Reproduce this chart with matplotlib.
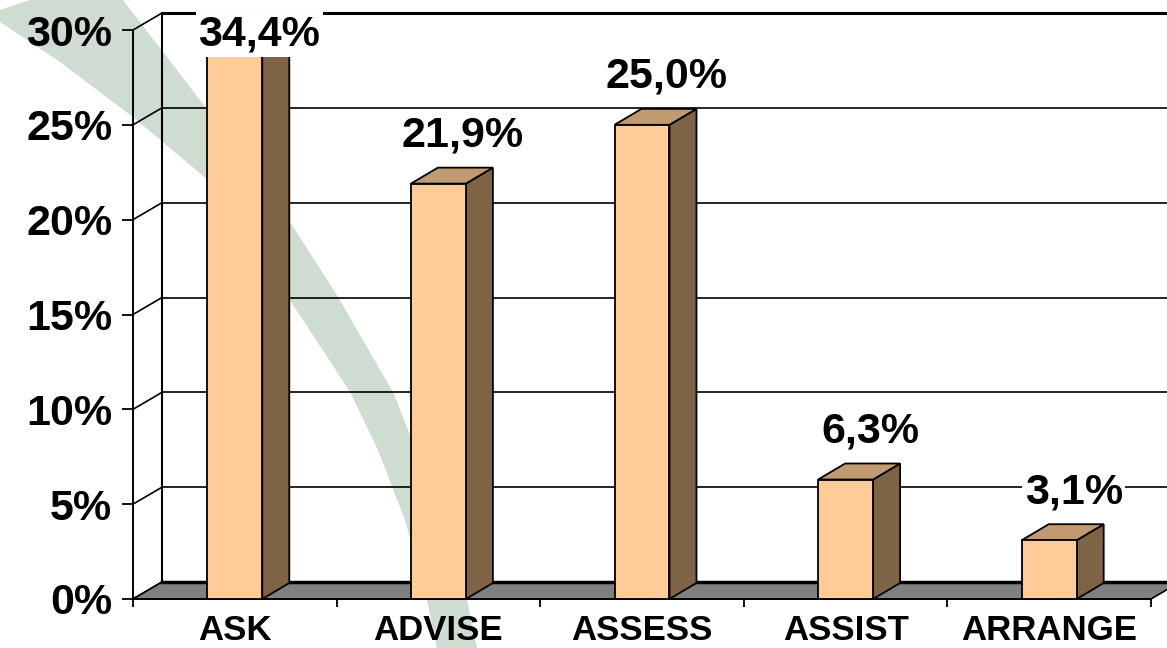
import matplotlib
matplotlib.use('Agg')
import matplotlib.pyplot as plt
from matplotlib.patches import Polygon, Rectangle
from matplotlib.transforms import Affine2D

plt.rcParams['font.family'] = ['Liberation Sans', 'DejaVu Sans']

# data
categories = ['ASK', 'ADVISE', 'ASSESS', 'ASSIST', 'ARRANGE']
values = [34.4, 21.9, 25.0, 6.3, 3.1]
value_labels = ['34,4%', '21,9%', '25,0%', '6,3%', '3,1%']
yticks = [0, 5, 10, 15, 20, 25, 30]
ytick_labels = ['0%', '5%', '10%', '15%', '20%', '25%', '30%']

W, H = 1167, 648
fig = plt.figure(figsize=(W / 100, H / 100), dpi=100)
fig.patch.set_facecolor('white')
ax = fig.add_axes([133 / W, 49 / H, 1018 / W, 569 / H])
ax.set_xlim(-0.5, len(categories) - 0.5)
ax.set_ylim(0, 30)
ax.patch.set_visible(False)

YMAX = 30
DX, DY = 29 / 203.6, 17 / 18.97     # wall depth (data units)
BDX, BDY = 27 / 203.6, 16 / 18.97   # bar depth
BW = 0.27

# background swoosh (decoration, pixel coords of the picture)
px = Affine2D().scale(1 / W, -1 / H).translate(0, 1) + fig.transFigure
right_edge = [(30, 0), (123, 0), (200, 100), (292, 225), (338, 297), (393, 392),
              (440, 510), (467, 600), (477, 648)]
left_edge = [(0, 10), (0, 22), (60, 62), (133, 117), (208, 180), (250, 240),
             (290, 300), (350, 392), (378, 450), (405, 520), (427, 600), (437, 648)]
swoosh = Polygon(right_edge + left_edge[::-1], closed=True, transform=px,
                 fc='#cfdcd2', ec='none', zorder=0, clip_on=False)
ax.add_patch(swoosh)

x0, x1 = -0.5, len(categories) - 0.5

# back wall + side wall lines
for v in yticks[1:]:
    ax.plot([x0 + DX, x1 + DX], [v + DY, v + DY], color='black',
            lw=2.2 if v == YMAX else 1.2, clip_on=False, zorder=1)
for v in yticks:
    ax.plot([x0, x0 + DX], [v, v + DY], color='black', lw=1.2, clip_on=False, zorder=1)
ax.plot([x0 + DX, x0 + DX], [DY, YMAX + DY], color='black', lw=1.5, clip_on=False, zorder=1)

# floor
floor = Polygon([(x0, 0), (x1, 0), (x1 + DX, DY), (x0 + DX, DY)], closed=True,
                fc='#808080', ec='black', lw=1.2, clip_on=False, zorder=2)
ax.add_patch(floor)
ax.plot([x0 + DX, x1 + DX], [DY, DY], color='black', lw=2.5, clip_on=False, zorder=2.1)

# bars
for i, v in enumerate(values):
    h = min(v, YMAX)
    l, r = i - BW / 2, i + BW / 2
    side = Polygon([(r, 0), (r + BDX, BDY), (r + BDX, h + BDY), (r, h)], closed=True,
                   fc='#7f6347', ec='black', lw=1.3, clip_on=False, zorder=3)
    top = Polygon([(l, h), (r, h), (r + BDX, h + BDY), (l + BDX, h + BDY)], closed=True,
                  fc='#c29a72', ec='black', lw=1.3, clip_on=False, zorder=3)
    front = Rectangle((l, 0), BW, h, fc='#ffcc99', ec='black', lw=1.3,
                      clip_on=False, zorder=3.1)
    ax.add_patch(side)
    ax.add_patch(top)
    ax.add_patch(front)
    ax.text(i + 0.12, min(h + DY + 1.05, 29.2), value_labels[i], ha='center',
            va='baseline', fontsize=31, fontweight='bold', zorder=5,
            bbox=dict(fc='white', ec='none', pad=2))

# axes
for s in ['top', 'right']:
    ax.spines[s].set_visible(False)
for s in ['left', 'bottom']:
    ax.spines[s].set_linewidth(1.4)
    ax.spines[s].set_zorder(2.5)

ax.set_yticks(yticks)
ax.set_yticklabels(ytick_labels, fontsize=31, fontweight='bold')
ax.tick_params(axis='y', length=8, width=1.3, pad=7)

ax.set_xticks([k - 0.5 for k in range(len(categories) + 1)])
ax.set_xticklabels([])
ax.set_xticks(range(len(categories)), minor=True)
ax.set_xticklabels(categories, minor=True, fontsize=25, fontweight='bold')
ax.tick_params(axis='x', which='major', length=6, width=1.3)
ax.tick_params(axis='x', which='minor', length=0, pad=11)

fig.savefig('out.png', dpi=100, facecolor='white')
